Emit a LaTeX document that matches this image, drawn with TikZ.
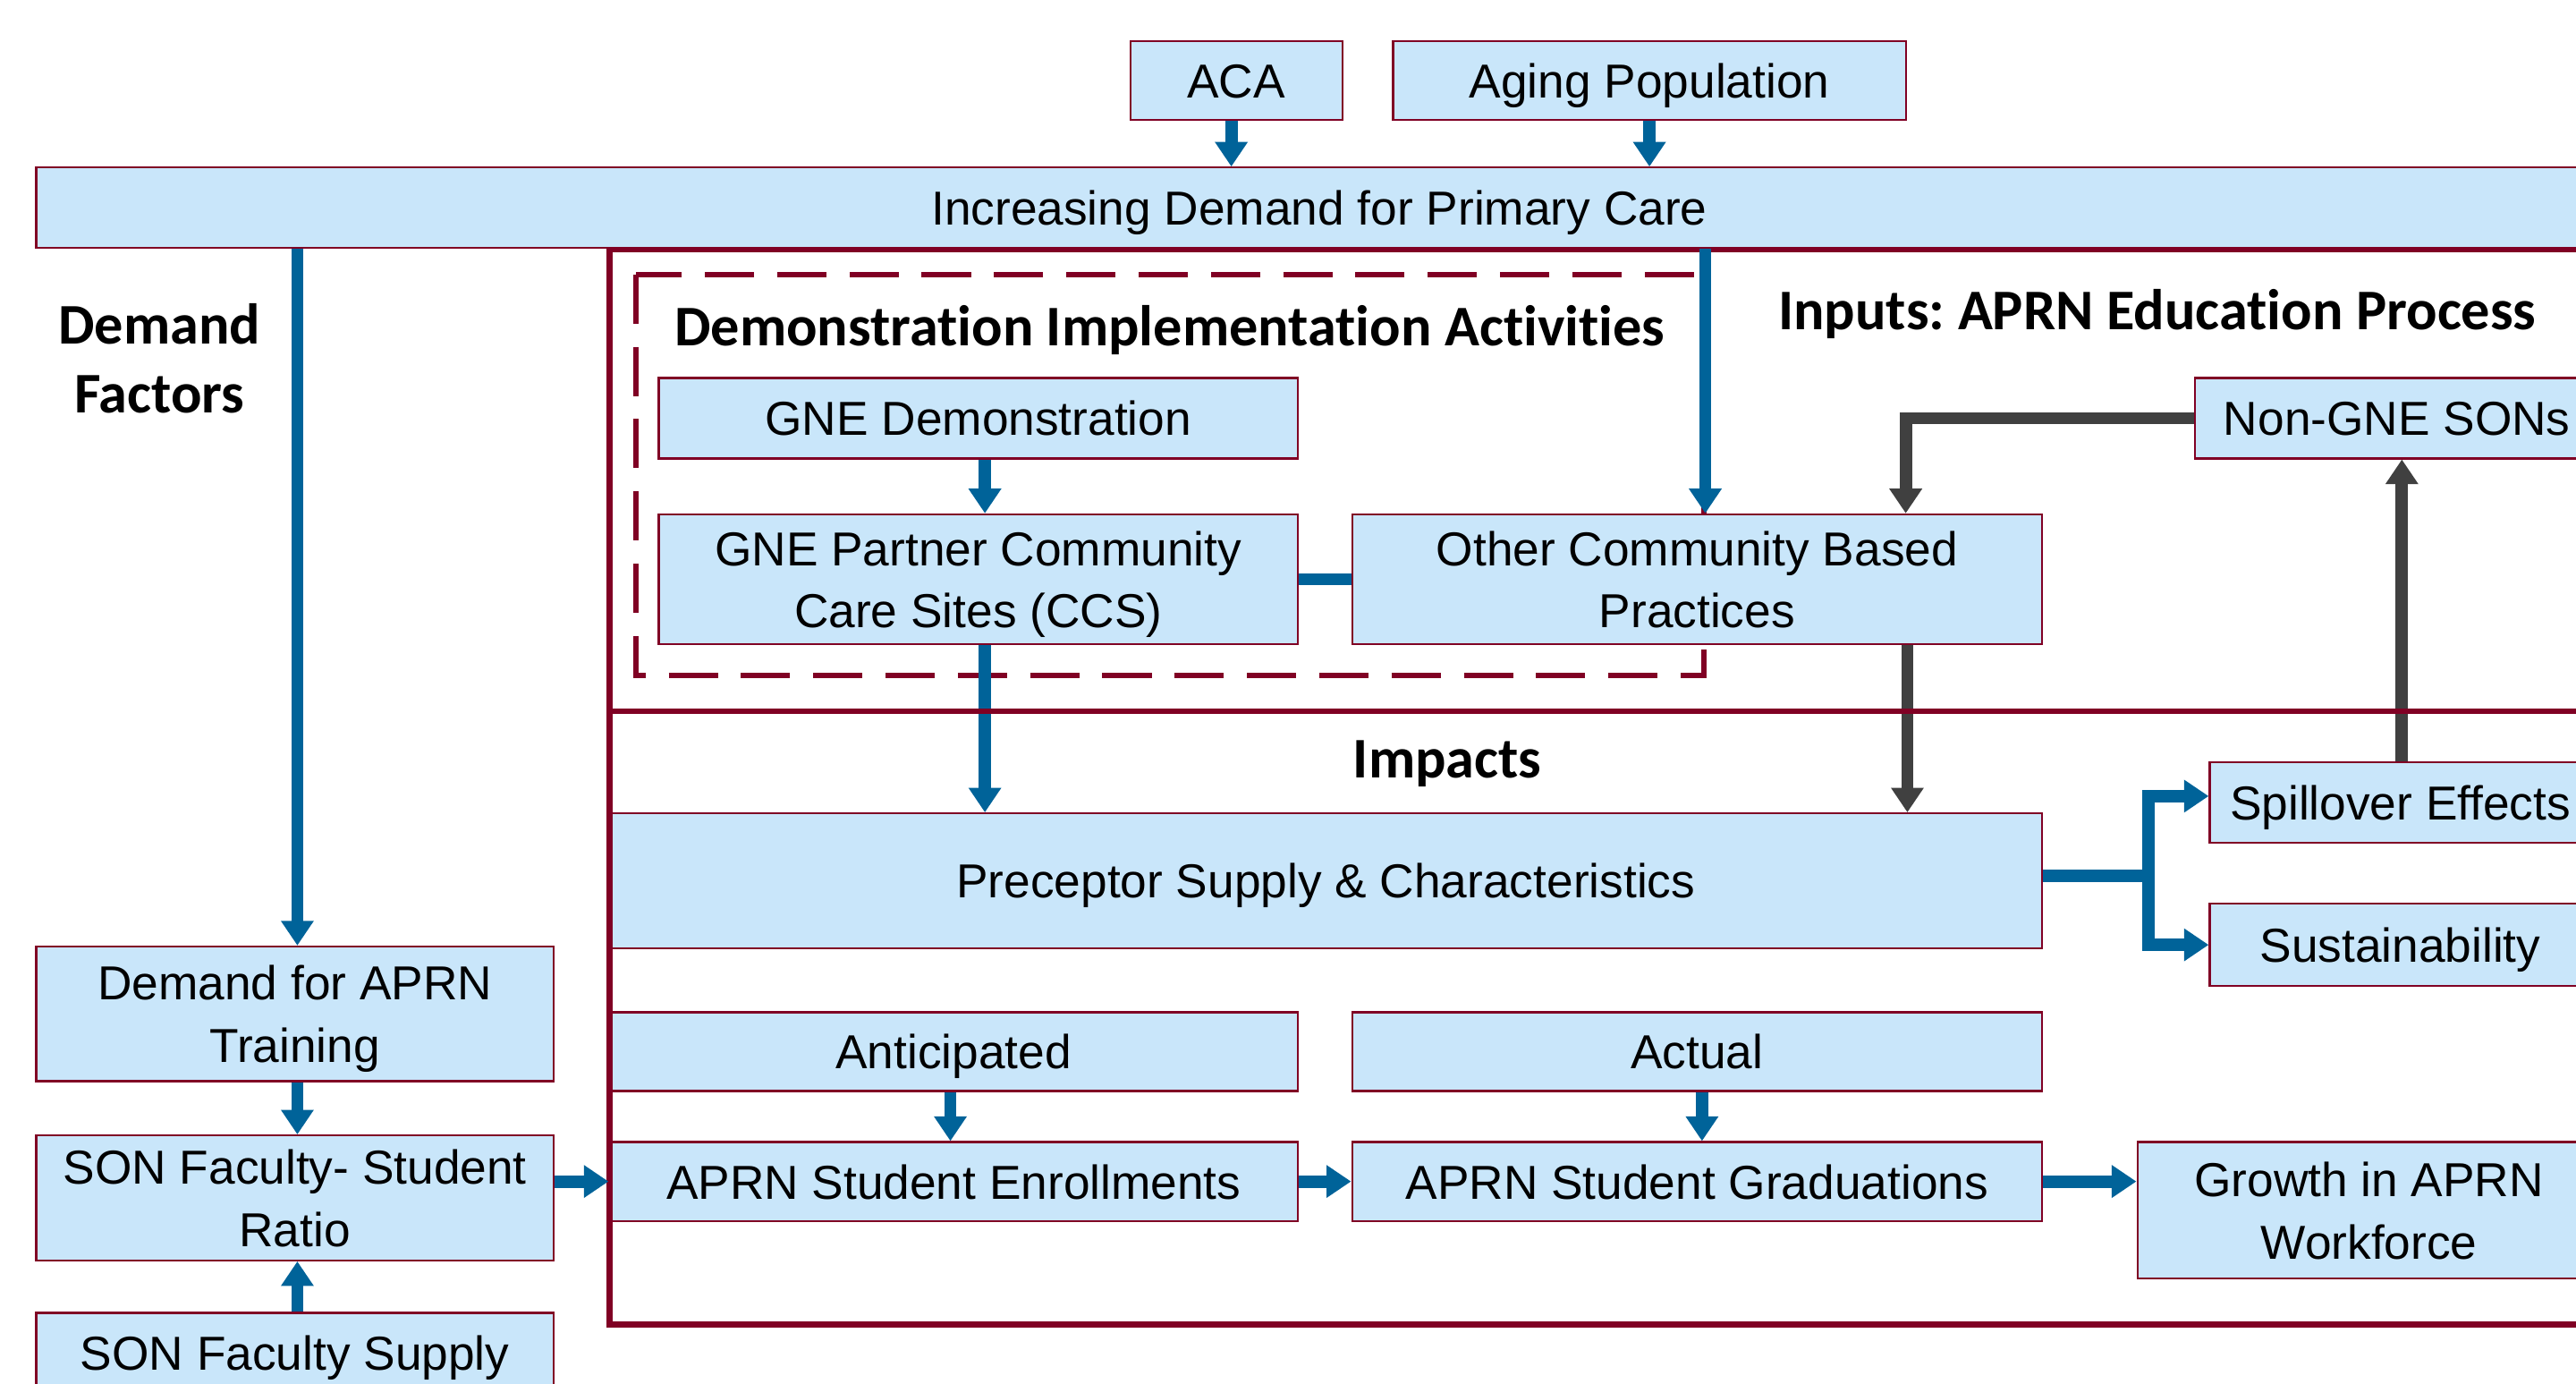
\documentclass[tikz,border=0pt]{standalone}
\usepackage{fontspec}
\setmainfont{Liberation Sans}
\newfontfamily\headfont[Ligatures=NoCommon]{Carlito}
\usetikzlibrary{arrows.meta,calc}
\definecolor{boxfill}{RGB}{201,230,250}
\definecolor{maroon}{RGB}{128,0,36}
\definecolor{arrblue}{RGB}{0,99,153}
\definecolor{arrgray}{RGB}{64,64,64}
\newcommand{\boxtext}[1]{\raisebox{-3pt}[\height][\depth]{\begin{tabular}{@{}c@{}}#1\end{tabular}}}
\frenchspacing
\begin{document}
\begin{tikzpicture}[x=1pt,y=-1pt,
 box/.style={draw=maroon, line width=1.2pt, fill=boxfill, inner sep=0pt, align=center, font=\fontsize{29}{38}\selectfont, text=black},
 head/.style={font=\headfont\bfseries\fontsize{35}{42}\selectfont, align=center, inner sep=0pt},
 barrow/.style={draw=arrblue, line width=7.5pt, -{Triangle[length=15pt,width=19pt]}},
 garrow/.style={draw=arrgray, line width=7.5pt, -{Triangle[length=15pt,width=19pt]}},
 bline/.style={draw=arrblue, line width=7.5pt},
 frame/.style={draw=maroon, line width=3.4pt},
]
\useasboundingbox (0,0) rectangle (1568,842);
\clip (0,0) rectangle (1568,842);
\fill[white] (0,0) rectangle (1568,842);

% dashed demonstration box
\draw[maroon, line width=3.3pt, dash pattern=on 30pt off 14pt] (387,167) rectangle (1037,411);

% boxes
\node[box, minimum width=129, minimum height=48] (aca) at (752.5,49) {\boxtext{ACA}};
\node[box, minimum width=312, minimum height=48] (aging) at (1004,49) {\boxtext{Aging Population}};
\node[box, minimum width=1562, minimum height=49] (incr) at (803,126.5) {\boxtext{Increasing Demand for Primary Care}};
\node[box, minimum width=315, minimum height=82] (dem) at (179.5,617) {\boxtext{Demand for APRN\\Training}};
\node[box, minimum width=315, minimum height=76] (ratio) at (179.5,729) {\boxtext{SON Faculty- Student\\Ratio}};
\node[box, minimum width=315, minimum height=48] (supply) at (179.5,823) {\boxtext{SON Faculty Supply}};
\node[box, minimum width=389, minimum height=49] (gnedemo) at (595.5,254.5) {\boxtext{GNE Demonstration}};
\node[box, minimum width=389, minimum height=79] (gnep) at (595.5,352.5) {\boxtext{GNE Partner Community\\Care Sites (CCS)}};
\node[box, minimum width=420, minimum height=79] (other) at (1033,352.5) {\boxtext{Other Community Based\\Practices}};
\node[box, minimum width=246, minimum height=49] (nongne) at (1459,254.5) {\boxtext{Non-GNE SONs}};
\node[box, minimum width=872, minimum height=82] (precep) at (807,536) {\boxtext{Preceptor Supply \& Characteristics}};
\node[box, minimum width=232, minimum height=49] (spill) at (1461,488.5) {\boxtext{Spillover Effects}};
\node[box, minimum width=232, minimum height=50] (sust) at (1461,575) {\boxtext{Sustainability}};
\node[box, minimum width=419, minimum height=48] (antic) at (580.5,640) {\boxtext{Anticipated}};
\node[box, minimum width=420, minimum height=48] (actual) at (1033,640) {\boxtext{Actual}};
\node[box, minimum width=419, minimum height=48] (enroll) at (580.5,719) {\boxtext{APRN Student Enrollments}};
\node[box, minimum width=420, minimum height=48] (grad) at (1033,719) {\boxtext{APRN Student Graduations}};
\node[box, minimum width=282, minimum height=83] (growth) at (1442,736.5) {\boxtext{Growth in APRN\\Workforce}};

% frame
\draw[frame] (1620,152) -- (371,152) -- (371,806) -- (1620,806);

% headings
\node[head] (hdemo) at (712,201) {Demonstration Implementation Activities};
\node[head] (hinputs) at (1313,191) {Inputs: APRN Education Process};
\node[head] (hdemand) at (97,218) {Demand\\Factors};
\node[head] (himpacts) at (881,465) {Impacts};

% connectors
\draw[barrow] ([xshift=-3pt]aca.south) -- ([xshift=-3pt]aca.south |- incr.north);
\draw[barrow] (aging.south) -- (aging.south |- incr.north);
\draw[barrow] ([xshift=1.5pt]dem.north |- incr.south) -- ([xshift=1.5pt]dem.north);
\draw[barrow] ([xshift=5pt]other.north |- incr.south) -- ([xshift=5pt]other.north);
\draw[barrow] ([xshift=4pt]gnedemo.south) -- ([xshift=4pt]gnep.north);
\draw[bline] (gnep.east) -- (other.west);
\draw[barrow] ([xshift=4pt]gnep.south) -- ([xshift=4pt]gnep.south |- precep.north);
\draw[garrow] ([xshift=128pt]other.south) -- ([xshift=128pt]other.south |- precep.north);
\draw[garrow] (nongne.west) -| ([xshift=127pt]other.north);
\draw[garrow] ([xshift=1pt]spill.north) -- ([xshift=1pt]spill.north |- nongne.south);
\coordinate (split) at ($([yshift=3pt]precep.east)+(64,0)$);
\draw[bline] ([yshift=3pt]precep.east) -- (split);
\draw[barrow] (split) |- ([yshift=4pt]spill.west);
\draw[barrow] (split) |- (sust.west);
\draw[barrow] ([xshift=1.5pt]dem.south) -- ([xshift=1.5pt]ratio.north);
\draw[barrow] ([xshift=1.5pt]supply.north) -- ([xshift=1.5pt]ratio.south);
\draw[barrow] (ratio.east |- enroll.west) -- (enroll.west);
\draw[barrow] ([xshift=-2pt]antic.south) -- ([xshift=-2pt]enroll.north);
\draw[barrow] ([xshift=3pt]actual.south) -- ([xshift=3pt]grad.north);
\draw[barrow] (enroll.east) -- (grad.west);
\draw[barrow] (grad.east) -- (grad.east -| growth.west);

% divider between inputs and impacts
\draw[frame] (371,433) -- (1620,433);
\end{tikzpicture}
\end{document}
